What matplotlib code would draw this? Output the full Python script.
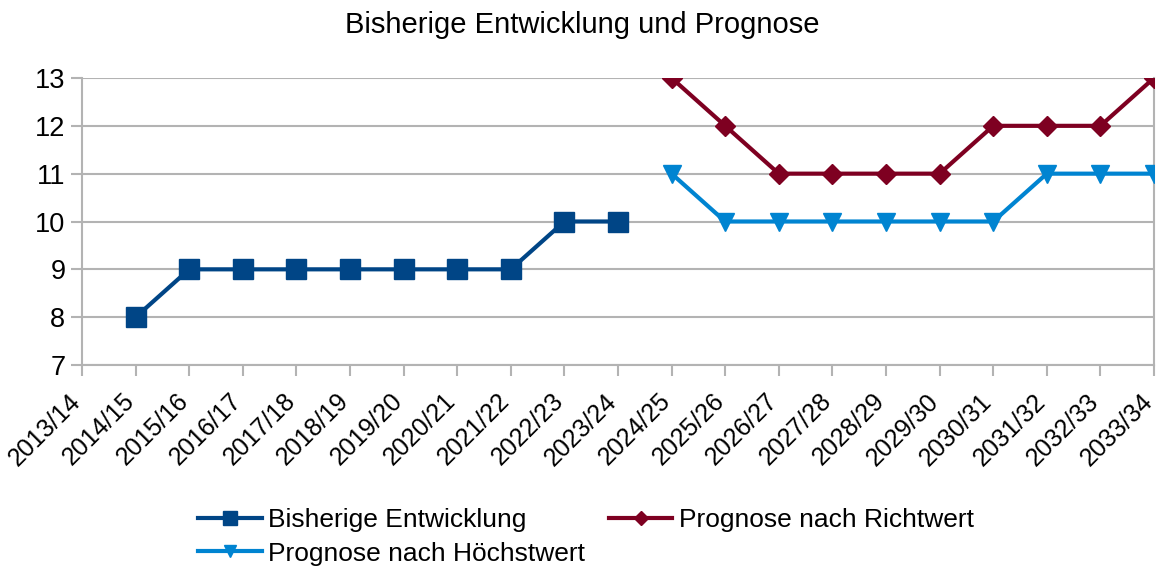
import matplotlib.pyplot as plt

plt.rcParams['font.family'] = ['Liberation Sans', 'DejaVu Sans']

# Kategorien (Schuljahre)
jahre = ['2013/14', '2014/15', '2015/16', '2016/17', '2017/18', '2018/19', '2019/20',
         '2020/21', '2021/22', '2022/23', '2023/24', '2024/25', '2025/26', '2026/27',
         '2027/28', '2028/29', '2029/30', '2030/31', '2031/32', '2032/33', '2033/34']

# Werte je Reihe (None = kein Wert)
bisherig = [None, 8, 9, 9, 9, 9, 9, 9, 9, 10, 10] + [None] * 10
richtwert = [None] * 11 + [13, 12, 11, 11, 11, 11, 12, 12, 12, 13]
hoechstwert = [None] * 11 + [11, 10, 10, 10, 10, 10, 10, 11, 11, 11]

x = list(range(len(jahre)))


def punkte(werte):
    xs = [i for i, v in zip(x, werte) if v is not None]
    ys = [v for v in werte if v is not None]
    return xs, ys


fig = plt.figure(figsize=(11.64, 5.72), dpi=100)
ax = fig.add_axes([82 / 1164, 1 - 365 / 572, (1154 - 82) / 1164, (365 - 78) / 572])

xs, ys = punkte(bisherig)
ax.plot(xs, ys, color='#004586', lw=3, marker='s', ms=14, label='Bisherige Entwicklung')
xs, ys = punkte(richtwert)
ax.plot(xs, ys, color='#7e0021', lw=3, marker='D', ms=10, label='Prognose nach Richtwert')
xs, ys = punkte(hoechstwert)
ax.plot(xs, ys, color='#0084d1', lw=3, marker='v', ms=13, label='Prognose nach Höchstwert')

ax.set_xlim(0, 20)
ax.set_ylim(7, 13)
ax.set_yticks(range(7, 14))
ax.set_xticks(x)
ax.set_xticklabels(jahre, rotation=45, ha='right', va='baseline', rotation_mode='anchor', fontsize=18)
ax.tick_params(axis='y', labelsize=19.5, length=8, color='#b3b3b3', width=1.5, pad=4)
ax.tick_params(axis='x', length=8, color='#b3b3b3', width=1.5, pad=19)
ax.grid(axis='y', color='#b3b3b3', lw=1.5)
ax.set_axisbelow(True)
for s in ['top', 'right']:
    ax.spines[s].set_visible(False)
for s in ['left', 'bottom']:
    ax.spines[s].set_color('#b3b3b3')
    ax.spines[s].set_linewidth(1.5)
ax.plot([1, 1], [0, 1], transform=ax.transAxes, color='#b3b3b3', lw=1.5, clip_on=False, zorder=0)

fig.text(0.5, 1 - 25 / 572, 'Bisherige Entwicklung und Prognose', ha='center', va='center', fontsize=21)

handles, labels = ax.get_legend_handles_labels()
reihenfolge = [0, 2, 1]
fig.legend([handles[i] for i in reihenfolge], [labels[i] for i in reihenfolge],
           ncol=2, loc='center', bbox_to_anchor=(586 / 1164, 1 - 537 / 572),
           frameon=False, fontsize=19, handlelength=2.4, columnspacing=0.9,
           labelspacing=0.35, handletextpad=0.25, markerscale=0.7)

fig.savefig('out.png', dpi=100)
